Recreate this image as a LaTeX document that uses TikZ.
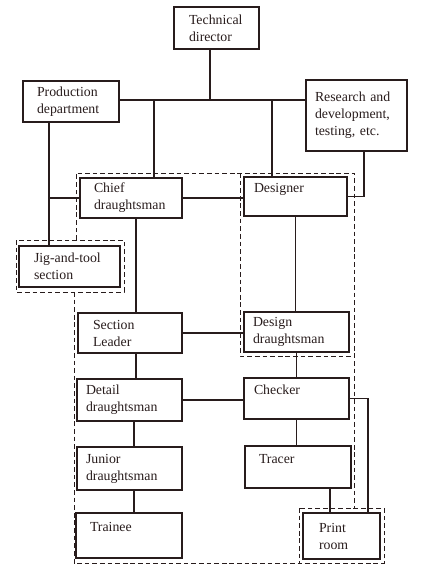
\documentclass[tikz,border=0pt]{standalone}
\usepackage{fontspec}
\setmainfont{Liberation Serif}
\usetikzlibrary{calc}
\definecolor{ink}{RGB}{40,28,28}
\begin{document}
\begin{tikzpicture}[
  x=0.03cm, y=-0.03cm,
  every node/.style={font=\fontsize{11.8}{14.5}\selectfont, text=ink},
  unit/.style n args={3}{rectangle, draw=ink, line width=1.4pt, align=left,
              minimum height=#2*0.03cm, inner xsep=#3*0.03cm,
              text width=(#1-2*#3)*0.03cm},
  link/.style={draw=ink, line width=1.2pt},
  group/.style={draw=ink, line width=0.7pt, dash pattern=on 4pt off 2.5pt}
]
  \useasboundingbox (0,0) rectangle (422,580);
  % Management
  \node[unit={85}{42}{15}] (tech) at (216.5,28) {Technical\\director};
  \node[unit={96}{41}{14}] (prod) at (71,101.5) {Production\\department};
  \node[unit={101}{71}{9}] (res) at (356.5,115.5) {Research and\\development,\\testing, etc.};
  % Drawing office
  \node[unit={102}{40}{14}] (chief) at (131,198) {Chief\\draughtsman};
  \node[unit={103}{39}{10}] (designer) at (295.5,196.5) {Designer\\\mbox{}};
  \node[unit={101}{41}{15}] (jig) at (69.5,266.5) {Jig-and-tool\\section};
  \node[unit={104}{40}{15}] (sect) at (130,333) {Section\\Leader};
  \node[unit={105}{40}{9}] (design) at (296.5,332) {Design\\draughtsman};
  \node[unit={105}{42}{9}] (detail) at (129.5,400) {Detail\\draughtsman};
  \node[unit={105}{41}{10}] (checker) at (296.5,398.5) {Checker\\\mbox{}};
  \node[unit={105}{43}{9}] (junior) at (129.5,468.5) {Junior\\draughtsman};
  \node[unit={106}{42}{14}] (tracer) at (298,467) {Tracer\\\mbox{}};
  \node[unit={106}{45}{14}] (trainee) at (129,535.5) {Trainee\\\mbox{}};
  \node[unit={77}{46}{16}] (print) at (341.5,536) {Print\\room};
  % Group outlines
  \draw[group] (76,240) -- (76,173) -- (354,173) -- (354,508);
  \draw[group] (74,292) -- (74,563) -- (299,563);
  \draw[group] (240,173) -- (240,356) -- (354,356);
  \draw[group] (16,240) rectangle (124,292);
  \draw[group] (299,508) rectangle (384,563);
  % Top connections
  \coordinate (bus) at (210,100);
  \draw[link] (tech.south -| bus) -- (bus);
  \draw[link] (prod.east |- bus) -- (res.west |- bus);
  \draw[link] ($(chief.north)+(23,0)$) coordinate (cup) -- (cup |- bus);
  \draw[link] ($(designer.north)+(-23.5,0)$) coordinate (dup) -- (dup |- bus);
  \draw[link] ($(prod.south)+(-22,0)$) coordinate (pdown) -- (pdown |- jig.north);
  \draw[link] (pdown |- chief.west) -- (chief.west);
  \draw[link] ($(res.south)+(7.5,0)$) |- (designer.east);
  \draw[link] (chief.east) -- (chief.east -| designer.west);
  % Left column
  \draw[link] ($(chief.south)+(5,0)$) coordinate (cdown) -- (cdown |- sect.north);
  \draw[link] ($(sect.south)+(6,0)$) coordinate (sdown) -- (sdown |- detail.north);
  \draw[link] ($(detail.south)+(4.5,0)$) coordinate (ddown) -- (ddown |- junior.north);
  \draw[link] ($(junior.south)+(4.5,0)$) coordinate (jdown) -- (jdown |- trainee.north);
  % Right column
  \draw[link] (designer.south) -- (designer.south |- design.north);
  \draw[link] (design.south) -- (design.south |- checker.north);
  \draw[link] (checker.south) -- (checker.south |- tracer.north);
  \draw[link] ($(tracer.south)+(32,0)$) coordinate (tdown) -- (tdown |- print.north);
  \draw[link] (checker.east) -| ($(print.north)+(26.5,0)$);
  % Cross links
  \draw[link] (sect.east) -- (sect.east -| design.west);
  \draw[link] (detail.east) -- (detail.east -| checker.west);
\end{tikzpicture}
\end{document}
